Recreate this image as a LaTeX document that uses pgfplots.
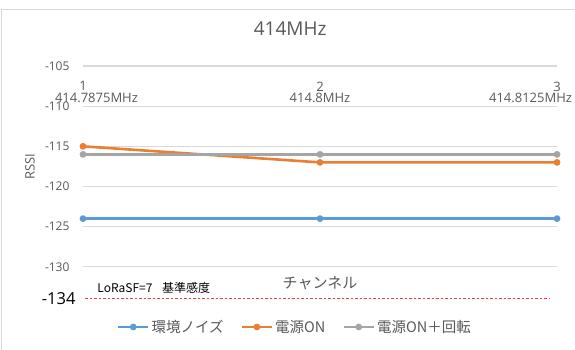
\documentclass[border=0pt]{standalone}
\usepackage{pgfplots}
\pgfplotsset{compat=1.18}
\usepackage{fontspec}
\setmainfont{Open Sans}
\newfontfamily\jp{Noto Sans CJK JP}

\definecolor{sBlue}{HTML}{5B9BD5}
\definecolor{sOrange}{HTML}{ED7D31}
\definecolor{sGray}{HTML}{A5A5A5}
\definecolor{txt}{HTML}{595959}
\definecolor{gridc}{HTML}{D9D9D9}
\definecolor{frame}{HTML}{D9D9D9}
\definecolor{refred}{HTML}{F03C3C}

\begin{document}
\begin{tikzpicture}
\useasboundingbox (0,0) rectangle (575pt,350pt);
\fill[white] (0,0) rectangle (575pt,350pt);
\draw[frame, line width=1.2pt] (1.5pt,0) -- (1.5pt,340.5pt) -- (575pt,340.5pt);

\begin{axis}[
  at={(83pt,43pt)}, anchor=south west,
  scale only axis, width=474pt, height=241pt,
  xmin=1, xmax=3, ymin=-135, ymax=-105,
  axis line style={draw=none},
  major tick length=0pt,
  /pgf/number format/assume math mode=true,
  xtick={1,2,3},
  xticklabel pos=upper,
  xticklabels={
    {\makebox[0pt]{1}\\\makebox[0pt][l]{\hspace*{-28pt}414.7875MHz}},
    {2\\414.8MHz},
    {\makebox[0pt]{3}\\\makebox[0pt][r]{414.8125MHz\hspace*{-15pt}}}},
  xticklabel style={anchor=north, yshift=-15.5pt, align=center, inner sep=0pt,
    font=\fontsize{13}{11.5}\selectfont, text=txt},
  ytick={-130,-125,-120,-115,-110,-105},
  yticklabel style={font=\fontsize{12}{12}\selectfont, text=txt, xshift=-10pt},
  extra y ticks={-134},
  extra y tick labels={-134},
  extra y tick style={grid=none,
    yticklabel style={font=\fontsize{16.5}{16.5}\selectfont, text=black, xshift=6pt}},
  ymajorgrids, grid style={gridc, line width=1.2pt},
  title={414MHz},
  title style={at={(0.437,1.129)}, anchor=center,
    font=\fontsize{19}{19}\selectfont, text=txt},
  xlabel={\jp チャンネル},
  xlabel style={at={(0.5,0.0996)}, anchor=center,
    font=\fontsize{15}{15}\selectfont, text=txt},
  ylabel={RSSI},
  ylabel style={at={(-0.112,0.581)}, anchor=center, rotate=0,
    font=\fontsize{13}{13}\selectfont, text=txt},
  legend columns=3,
  legend style={at={(0.447,-0.083)}, anchor=center, draw=none, fill=none,
    font=\jp\fontsize{14.5}{14.5}\selectfont, text=txt,
    /tikz/every even column/.append style={column sep=15pt},
    inner sep=0pt},
  legend image code/.code={
    \draw[mark repeat=2, mark phase=2, #1]
      plot coordinates {(0pt,0pt) (15pt,0pt) (30pt,0pt)};},
  every axis plot/.append style={line width=2.6pt,
    mark=*, mark options={scale=1.15, solid}},
]
\addplot[sBlue, mark options={fill=sBlue, draw=sBlue}] coordinates {(1,-124) (2,-124) (3,-124)};
\addlegendentry{環境ノイズ}
\addplot[sOrange, mark options={fill=sOrange, draw=sOrange}] coordinates {(1,-115) (2,-117) (3,-117)};
\addlegendentry{電源ON}
\addplot[sGray, mark options={fill=sGray, draw=sGray}] coordinates {(1,-116) (2,-116) (3,-116)};
\addlegendentry{電源ON＋回転}

% reference sensitivity level (LoRa SF7)
\addplot[draw=refred, line width=1pt, dash pattern=on 2.5pt off 2pt, mark=none, forget plot]
  coordinates {(1.01,-134) (2.97,-134)};
\node[anchor=south west, inner sep=0pt, font=\jp\fontsize{12}{12}\selectfont, text=black]
  at (axis cs:1.06,-133.4) {LoRaSF=7\hspace{0.8em}基準感度};
\end{axis}
\end{tikzpicture}
\end{document}
